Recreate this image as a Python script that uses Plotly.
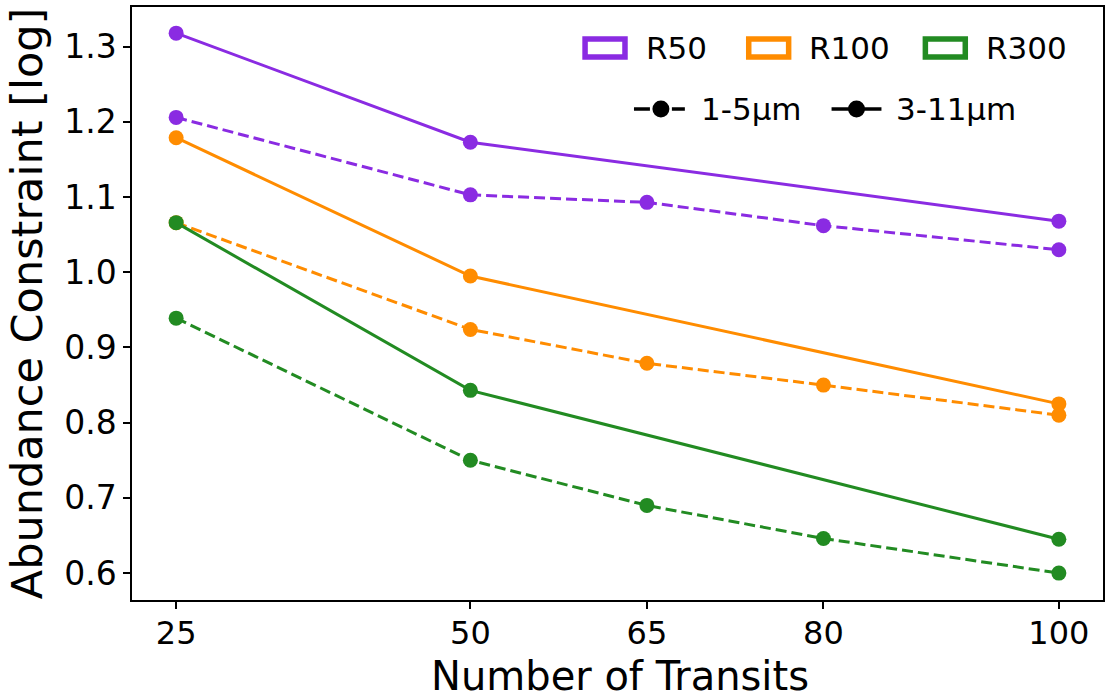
import plotly.graph_objects as go

# ---- data ----
transits_full = [25, 50, 65, 80, 100]
transits_sparse = [25, 50, 100]

r50_short = [1.206, 1.103, 1.093, 1.062, 1.030]     # 1-5um (dashed)
r50_long = [1.318, 1.173, 1.068]                    # 3-11um (solid)
r100_short = [1.066, 0.924, 0.879, 0.850, 0.810]
r100_long = [1.179, 0.995, 0.825]
r300_short = [0.939, 0.750, 0.690, 0.646, 0.600]
r300_long = [1.066, 0.843, 0.645]

x_ticks = [25, 50, 65, 80, 100]
y_ticks = [0.6, 0.7, 0.8, 0.9, 1.0, 1.1, 1.2, 1.3]

res_labels = ["R50", "R100", "R300"]
res_colors = ["#8A2BE2", "#FF8C00", "#228B22"]
range_labels = ["1-5µm", "3-11µm"]

FONT = "DejaVu Sans"
W, H = 1107, 699
ML, MR, MT, MB = 132, 2, 7, 99
PW, PH = W - ML - MR, H - MT - MB

fig = go.Figure()

series = [
    (r50_short, r50_long, res_colors[0]),
    (r100_short, r100_long, res_colors[1]),
    (r300_short, r300_long, res_colors[2]),
]
for short, long_, col in series:
    fig.add_trace(go.Scatter(
        x=transits_full, y=short, mode="lines+markers",
        line=dict(color=col, width=3, dash="11px,5px"),
        marker=dict(color=col, size=15), showlegend=False))
    fig.add_trace(go.Scatter(
        x=transits_sparse, y=long_, mode="lines+markers",
        line=dict(color=col, width=3),
        marker=dict(color=col, size=15), showlegend=False))


def px(xp):
    return (xp - ML) / PW


def py(yp):
    return (H - MB - yp) / PH


shapes = []
annotations = []

# legend row 1: resolution patches
rect_x = [(586, 626), (750, 790), (927, 967)]
text_x = [645, 808, 986]
for (x0, x1), tx, lab, col in zip(rect_x, text_x, res_labels, res_colors):
    shapes.append(dict(type="rect", xref="paper", yref="paper",
                       x0=px(x0), x1=px(x1), y0=py(39), y1=py(57),
                       line=dict(color=col, width=5.5), fillcolor="white"))
    annotations.append(dict(xref="paper", yref="paper", x=px(tx), y=py(48),
                            text=lab, showarrow=False, xanchor="left",
                            yanchor="middle",
                            font=dict(family=FONT, size=31, color="black")))

# legend row 2: line styles
ly = 109
for (a, b) in [(635, 651), (673, 686)]:
    shapes.append(dict(type="line", xref="paper", yref="paper",
                       x0=px(a), x1=px(b), y0=py(ly), y1=py(ly),
                       line=dict(color="black", width=3.5)))
shapes.append(dict(type="line", xref="paper", yref="paper",
                   x0=px(833), x1=px(883), y0=py(ly), y1=py(ly),
                   line=dict(color="black", width=3.5)))
for cx in [662, 858]:
    r = 8.5
    shapes.append(dict(type="circle", xref="paper", yref="paper",
                       x0=px(cx - r), x1=px(cx + r), y0=py(ly + r), y1=py(ly - r),
                       line=dict(color="black", width=0), fillcolor="black"))
for tx, lab in zip([700, 896], range_labels):
    annotations.append(dict(xref="paper", yref="paper", x=px(tx), y=py(ly),
                            text=lab, showarrow=False, xanchor="left",
                            yanchor="middle",
                            font=dict(family=FONT, size=31, color="black")))

# x-axis title as annotation (precise placement)
annotations.append(dict(xref="paper", yref="paper", x=px(621), y=py(701),
                        text="Number of Transits", showarrow=False,
                        xanchor="center", yanchor="bottom",
                        font=dict(family=FONT, size=40, color="black")))

fig.update_layout(
    width=W, height=H,
    margin=dict(l=ML, r=MR, t=MT, b=MB, pad=0),
    paper_bgcolor="white", plot_bgcolor="white",
    font=dict(family=FONT, color="black"),
    shapes=shapes, annotations=annotations,
    showlegend=False,
)
fig.update_xaxes(
    range=[21.25, 103.75], tickvals=x_ticks, ticktext=[str(v) for v in x_ticks],
    showgrid=False, zeroline=False, showline=True, mirror=True,
    linecolor="black", linewidth=1.5, ticks="outside", ticklen=7,
    tickwidth=1.5, tickcolor="black", tickfont=dict(family=FONT, size=32),
    ticklabelstandoff=-3,
)
fig.update_yaxes(
    range=[0.5642, 1.3528], tickvals=y_ticks, tickformat=".1f",
    showgrid=False, zeroline=False, showline=True, mirror=True,
    linecolor="black", linewidth=1.5, ticks="outside", ticklen=7,
    tickwidth=1.5, tickcolor="black", tickfont=dict(family=FONT, size=33),
    title=dict(text="Abundance Constraint [log]", font=dict(family=FONT, size=43),
               standoff=8),
)

fig.write_html("out.html")
